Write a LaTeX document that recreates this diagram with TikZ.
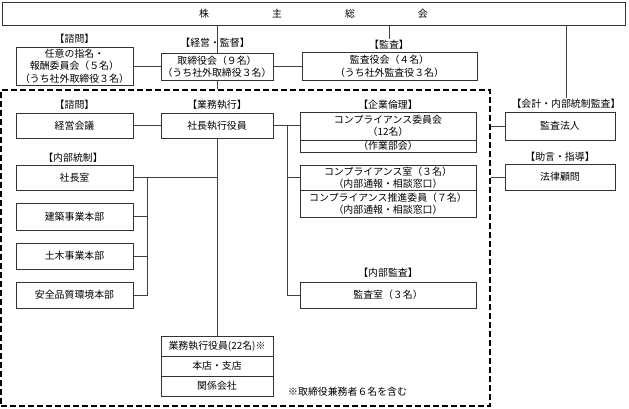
\documentclass[tikz,border=0pt]{standalone}
\usepackage{fontspec}
\setmainfont{Noto Sans CJK JP}
\usepackage{tikz}
\usetikzlibrary{calc}
\newcommand{\orgfont}{\fontsize{9.9}{12.5}\selectfont}
\newcommand{\spreadgap}{\hspace{63pt}}

\begin{document}
\begin{tikzpicture}[x=1pt,y=-1pt,
	unit/.style={draw=black!80, line width=0.8pt, fill=white, inner sep=0pt, align=center, font=\orgfont},
	tag/.style={inner sep=1pt, font=\orgfont},
	link/.style={draw=black!75, line width=0.6pt}]
	\useasboundingbox (0,0) rectangle (629,409);

	% top level
	\node[unit, minimum width=623, minimum height=23] (shareholders) at (313.5,13.5) {株\spreadgap 主\spreadgap 総\spreadgap 会};
	\node[unit, minimum width=117, minimum height=38] (nomcomm) at (74.5,66) {任意の指名・\\報酬委員会（５名）\\（うち社外取締役３名）};
	\node[unit, minimum width=112, minimum height=27] (board) at (217,66.5) {取締役会（９名）\\（うち社外取締役３名）};
	\node[unit, minimum width=175, minimum height=28] (auditbd) at (389.5,66) {監査役会（４名）\\（うち社外監査役３名）};
	\node[tag] (tagconsulta) at (74.5,39) {【諮問】};
	\node[tag] (tagmanage) at (215,43) {【経営・監督】};
	\node[tag] (tagaudit) at (389,45) {【監査】};

	% execution frame
	\node[draw, dashed, dash pattern=on 6pt off 3pt, line width=1.4pt, minimum width=489, minimum height=316] (frame) at (245.5,248) {};

	\node[unit, minimum width=117, minimum height=25] (mgmtmtg) at (74.5,125.5) {経営会議};
	\node[unit, minimum width=112, minimum height=25] (president) at (217,125.5) {社長執行役員};
	\node[tag] (tagconsultb) at (74.5,105) {【諮問】};
	\node[tag] (tagexec) at (217,105) {【業務執行】};

	\node[unit, minimum width=176, minimum height=28] (ethics) at (388,126) {コンプライアンス委員会\\（12名）};
	\node[unit, minimum width=176, minimum height=12] (workgrp) at (388,146) {（作業部会）};
	\node[tag] (tagethics) at (388,105) {【企業倫理】};
	\node[unit, minimum width=176, minimum height=25] (cpoffice) at (388,177.5) {コンプライアンス室（３名）\\（内部通報・相談窓口）};
	\node[unit, minimum width=176, minimum height=27] (cpstaff) at (388,203.5) {コンプライアンス推進委員（７名）\\（内部通報・相談窓口）};
	\node[unit, minimum width=176, minimum height=26] (auditroom) at (388,295) {監査室（３名）};
	\node[tag] (taginaudit) at (388,273) {【内部監査】};

	\node[tag] (tagcontrol) at (73,158) {【内部統制】};
	\node[unit, minimum width=117, minimum height=25] (presoffice) at (74.5,177.5) {社長室};
	\node[unit, minimum width=117, minimum height=27] (archdiv) at (74.5,216.5) {建築事業本部};
	\node[unit, minimum width=117, minimum height=26] (civildiv) at (74.5,256) {土木事業本部};
	\node[unit, minimum width=117, minimum height=26] (safetydiv) at (74.5,295) {安全品質環境本部};

	\node[unit, minimum width=112, minimum height=20] (officers) at (217,346) {業務執行役員(22名)※};
	\node[unit, minimum width=112, minimum height=20] (branches) at (217,366) {本店・支店};
	\node[unit, minimum width=112, minimum height=20] (affiliates) at (217,386) {関係会社};
	\node[tag, anchor=west] (note) at (287,392) {※取締役兼務者６名を含む};

	% outside
	\node[tag] (tagacct) at (566,104) {【会計・内部統制監査】};
	\node[unit, minimum width=110, minimum height=28] (acctaudit) at (560,126) {監査法人};
	\node[tag] (tagadvice) at (560,157) {【助言・指導】};
	\node[unit, minimum width=110, minimum height=26] (lawyer) at (560,177) {法律顧問};

	\coordinate (lbus) at (147,177.5);
	\coordinate (rbus) at (287,125.5);

	\draw[link] (board.north |- shareholders.south) -- (board.north);
	\draw[link] (nomcomm.east |- board.west) -- (board.west);
	\draw[link] (board.east) -- (auditbd.west |- board.east);
	\draw[link] (tagaudit.north |- shareholders.south) -- (tagaudit.north);
	\draw[link] (tagacct.north |- shareholders.south) -- (tagacct.north);
	\draw[link] (board.south) -- (board.south |- frame.north);
	\draw[link] (mgmtmtg.east) -- (president.west);
	\draw[link] (president.south) -- (officers.north);
	\draw[link] (president.east) -- (ethics.west |- president.east);
	\draw[link] (rbus) |- (auditroom.west);
	\draw[link] (rbus |- cpoffice.west) -- (cpoffice.west);
	\draw[link] (presoffice.east) -- (presoffice.east -| president.south);
	\draw[link] (lbus) |- (safetydiv.east);
	\draw[link] (lbus |- archdiv.east) -- (archdiv.east);
	\draw[link] (lbus |- civildiv.east) -- (civildiv.east);
	\draw[link] (acctaudit.west -| frame.east) -- (acctaudit.west);
	\draw[link] (lawyer.west -| frame.east) -- (lawyer.west);
\end{tikzpicture}
\end{document}
